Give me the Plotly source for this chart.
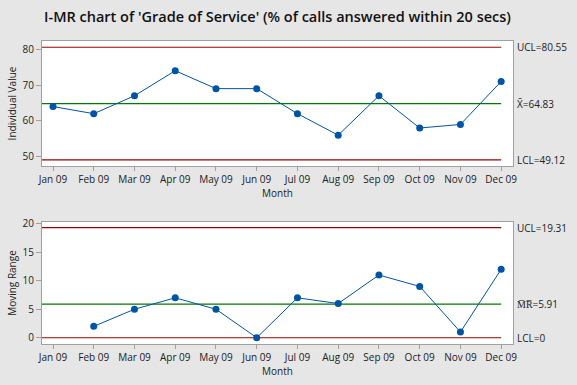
import plotly.graph_objects as go

months = ["Jan 09", "Feb 09", "Mar 09", "Apr 09", "May 09", "Jun 09",
          "Jul 09", "Aug 09", "Sep 09", "Oct 09", "Nov 09", "Dec 09"]
individual = [64, 62, 67, 74, 69, 69, 62, 56, 67, 58, 59, 71]
moving_range = [None, 2, 5, 7, 5, 0, 7, 6, 11, 9, 1, 12]
i_limits = {"UCL": 80.55, "CL": 64.83, "LCL": 49.12}
mr_limits = {"UCL": 19.31, "CL": 5.91, "LCL": 0}
i_ticks = [50, 60, 70, 80]
mr_ticks = [0, 5, 10, 15, 20]

FONT = "Open Sans"
TXT = "#222222"
BLUE = "#0054a6"
RED = "#9b0000"
GREEN = "#007a00"
FRAME = "#a0a0a0"
xidx = list(range(len(months)))
XR = [-0.27, 11.29]

fig = go.Figure()
fig.add_trace(go.Scatter(x=xidx, y=individual, mode="lines+markers",
                         line=dict(color=BLUE, width=1), marker=dict(color=BLUE, size=7),
                         xaxis="x", yaxis="y", showlegend=False))
fig.add_trace(go.Scatter(x=xidx, y=moving_range, mode="lines+markers",
                         line=dict(color=BLUE, width=1), marker=dict(color=BLUE, size=7),
                         xaxis="x2", yaxis="y2", showlegend=False, connectgaps=False))

def hline(y, color, xref, yref):
    fig.add_shape(type="line", xref=xref, yref=yref, x0=XR[0], x1=len(months) - 1,
                  y0=y, y1=y, line=dict(color=color, width=1.2), layer="below")

hline(i_limits["UCL"], RED, "x", "y")
hline(i_limits["LCL"], RED, "x", "y")
hline(i_limits["CL"], GREEN, "x", "y")
hline(mr_limits["UCL"], RED, "x2", "y2")
hline(mr_limits["LCL"], RED, "x2", "y2")
hline(mr_limits["CL"], GREEN, "x2", "y2")

def label(text, y, yref):
    fig.add_annotation(text=text, x=1, xref="paper", y=y, yref=yref, xanchor="left",
                       yanchor="middle", xshift=2, showarrow=False,
                       font=dict(family=FONT, size=10, color=TXT))

label("UCL=%.2f" % i_limits["UCL"], i_limits["UCL"], "y")
label("X\u0304=%.2f" % i_limits["CL"], i_limits["CL"], "y")
label("LCL=%.2f" % i_limits["LCL"], i_limits["LCL"], "y")
label("UCL=%.2f" % mr_limits["UCL"], mr_limits["UCL"], "y2")
label("M\u0305R\u0305=%.2f" % mr_limits["CL"], mr_limits["CL"], "y2")
label("LCL=%g" % mr_limits["LCL"], mr_limits["LCL"], "y2")

xcommon = dict(range=XR, tickmode="array", tickvals=xidx, ticktext=months,
               showline=True, mirror=True, linecolor=FRAME, linewidth=1, automargin=False,
               ticks="outside", ticklen=4, tickcolor=FRAME, showgrid=False, zeroline=False,
               tickfont=dict(family=FONT, size=10, color=TXT),
               title=dict(text="Month", font=dict(family=FONT, size=10, color=TXT), standoff=4))
ycommon = dict(showline=True, mirror=True, linecolor=FRAME, linewidth=1, automargin=True,
               ticks="outside", ticklen=5, tickcolor=FRAME, showgrid=False, zeroline=False,
               tickfont=dict(family=FONT, size=10, color=TXT))

fig.update_layout(
    width=577, height=385,
    paper_bgcolor="#e6e6e6", plot_bgcolor="white",
    margin=dict(l=40, r=64, t=41, b=41),
    title=dict(text="I-MR chart of 'Grade of Service' (% of calls answered within 20 secs)",
               x=0.5, xref="paper", y=1 - 17 / 385, yanchor="middle",
               font=dict(family=FONT, size=14.5, color="#111111", weight=600)),
    xaxis=dict(**xcommon, anchor="y", domain=[0, 1]),
    yaxis=dict(**ycommon, range=[47.4, 82.3], tickvals=i_ticks, domain=[0.5875, 1], anchor="x",
               title=dict(text="Individual Value", standoff=4,
                          font=dict(family=FONT, size=10, color=TXT))),
    xaxis2=dict(**xcommon, anchor="y2", domain=[0, 1]),
    yaxis2=dict(**ycommon, range=[-1.1, 20.3], tickvals=mr_ticks, domain=[0, 0.4026], anchor="x2",
                title=dict(text="Moving Range", standoff=4,
                           font=dict(family=FONT, size=10, color=TXT))),
)

fig.write_html("out.html", config={"displayModeBar": False},
               post_script="document.body.style.margin='0';document.body.style.padding='0';")
